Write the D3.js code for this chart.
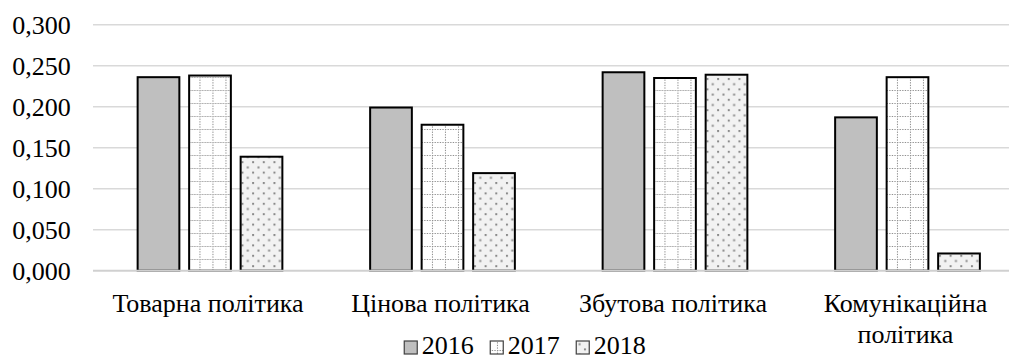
<!DOCTYPE html>
<html>
<head>
<meta charset="utf-8">
<script src="https://cdn.jsdelivr.net/npm/d3@7/dist/d3.min.js"></script>
<style>
  html, body { margin: 0; padding: 0; background: #fff; }
  svg { display: block; }
  text { font-family: "Liberation Serif", "Times New Roman", serif; fill: #000; }
</style>
</head>
<body>
<svg id="chart" width="1009" height="360"></svg>
<script>
// ---- data ----
const categories = ["Товарна політика", "Цінова політика", "Збутова політика", "Комунікаційна політика"];
const seriesNames = ["2016", "2017", "2018"];
const values2016 = [0.236, 0.199, 0.242, 0.187];
const values2017 = [0.238, 0.178, 0.235, 0.236];
const values2018 = [0.139, 0.119, 0.239, 0.021];
const yTicks = [0, 0.05, 0.1, 0.15, 0.2, 0.25, 0.3];

const seriesValues = [values2016, values2017, values2018];

// ---- layout ----
const plotLeft = 93.75, plotRight = 1023.75, gridRight = 1009;
const yTop = 24.7, yBottom = 270.7;
const fontSize = 26;

const svg = d3.select("#chart");

// patterns
const defs = svg.append("defs");
const p17 = defs.append("pattern").attr("id", "pat2017")
  .attr("patternUnits", "userSpaceOnUse")
  .attr("x", 1.7).attr("y", 12).attr("width", 13).attr("height", 13);
p17.append("rect").attr("width", 13).attr("height", 13).attr("fill", "#ffffff");
p17.append("line").attr("x1", 0.5).attr("x2", 0.5).attr("y1", 0).attr("y2", 13)
  .attr("stroke", "#8c8c8c").attr("stroke-width", 1).attr("stroke-dasharray", "1.3,1.3");
p17.append("line").attr("x1", 0).attr("x2", 13).attr("y1", 0.5).attr("y2", 0.5)
  .attr("stroke", "#8c8c8c").attr("stroke-width", 1).attr("stroke-dasharray", "1.3,1.3");

const pw = 10.667, ph = 10.4;
const p18 = defs.append("pattern").attr("id", "pat2018")
  .attr("patternUnits", "userSpaceOnUse")
  .attr("x", 9.03).attr("y", 5.2).attr("width", pw).attr("height", ph);
p18.append("rect").attr("width", pw).attr("height", ph).attr("fill", "#f2f2f2");
p18.append("rect").attr("x", 0).attr("y", 0).attr("width", 2).attr("height", 2).attr("fill", "#8a8a8a");
p18.append("rect").attr("x", pw / 2).attr("y", ph / 2).attr("width", 2).attr("height", 2).attr("fill", "#8a8a8a");

const fills = ["#bfbfbf", "url(#pat2017)", "url(#pat2018)"];

// scales
const x0 = d3.scaleBand().domain(categories).range([plotLeft, plotRight]).paddingInner(0).paddingOuter(0);
const x1 = d3.scaleBand().domain(seriesNames).range([0, x0.bandwidth()]).paddingInner(0.19).paddingOuter(0.852);
const y = d3.scaleLinear().domain([0, 0.3]).range([yBottom, yTop]);

// gridlines
svg.append("g").selectAll("line").data(yTicks.filter(t => t > 0)).join("line")
  .attr("x1", 93).attr("x2", gridRight)
  .attr("y1", d => y(d)).attr("y2", d => y(d))
  .attr("stroke", "#d9d9d9").attr("stroke-width", 1.5);

// y labels
const fmt = d => d3.format(".3f")(d).replace(".", ",");
svg.append("g").selectAll("text").data(yTicks).join("text")
  .attr("x", 70.7).attr("y", d => y(d)).attr("dy", "0.34em")
  .attr("text-anchor", "end").attr("font-size", fontSize)
  .text(fmt);

// bars
const groups = svg.append("g").selectAll("g").data(categories).join("g")
  .attr("transform", d => `translate(${x0(d)},0)`);
groups.selectAll("rect").data((c, ci) => seriesNames.map((s, si) => ({ s, si, v: seriesValues[si][ci] })))
  .join("rect")
  .attr("x", d => x1(d.s))
  .attr("width", x1.bandwidth())
  .attr("y", d => y(d.v))
  .attr("height", d => y(0) - y(d.v))
  .attr("fill", d => fills[d.si])
  .attr("stroke", "#000").attr("stroke-width", 2);

// x axis line
svg.append("line").attr("x1", 93).attr("x2", gridRight)
  .attr("y1", y(0)).attr("y2", y(0))
  .attr("stroke", "#d0d0d0").attr("stroke-width", 2);

// category labels (wrapped)
const labelG = svg.append("g");
categories.forEach(c => {
  const cx = x0(c) + x0.bandwidth() / 2 - 2;
  const t = labelG.append("text").attr("x", cx).attr("y", 312)
    .attr("text-anchor", "middle").attr("font-size", fontSize);
  const words = c.split(" ");
  let line = [];
  let tspan = t.append("tspan").attr("x", cx).attr("y", 312);
  let lineNo = 0;
  words.forEach(w => {
    line.push(w);
    tspan.text(line.join(" "));
    if (tspan.node().getComputedTextLength() > x0.bandwidth() - 10 && line.length > 1) {
      line.pop();
      tspan.text(line.join(" "));
      line = [w];
      lineNo++;
      tspan = t.append("tspan").attr("x", cx).attr("y", 312 + lineNo * 31).text(w);
    }
  });
});

// legend
const legend = svg.append("g");
let lx = 0;
seriesNames.forEach((s, i) => {
  const g = legend.append("g");
  g.append("rect").attr("x", lx).attr("y", 341).attr("width", 13).attr("height", 13)
    .attr("fill", fills[i]).attr("stroke", "#404040").attr("stroke-width", 1.2);
  const t = g.append("text").attr("x", lx + 17.5).attr("y", 354).attr("font-size", fontSize).text(s);
  lx += 17.5 + t.node().getComputedTextLength() + 16.5;
});
const legendW = lx - 16.5;
legend.attr("transform", `translate(${525 - legendW / 2},0)`);
</script>
</body>
</html>
